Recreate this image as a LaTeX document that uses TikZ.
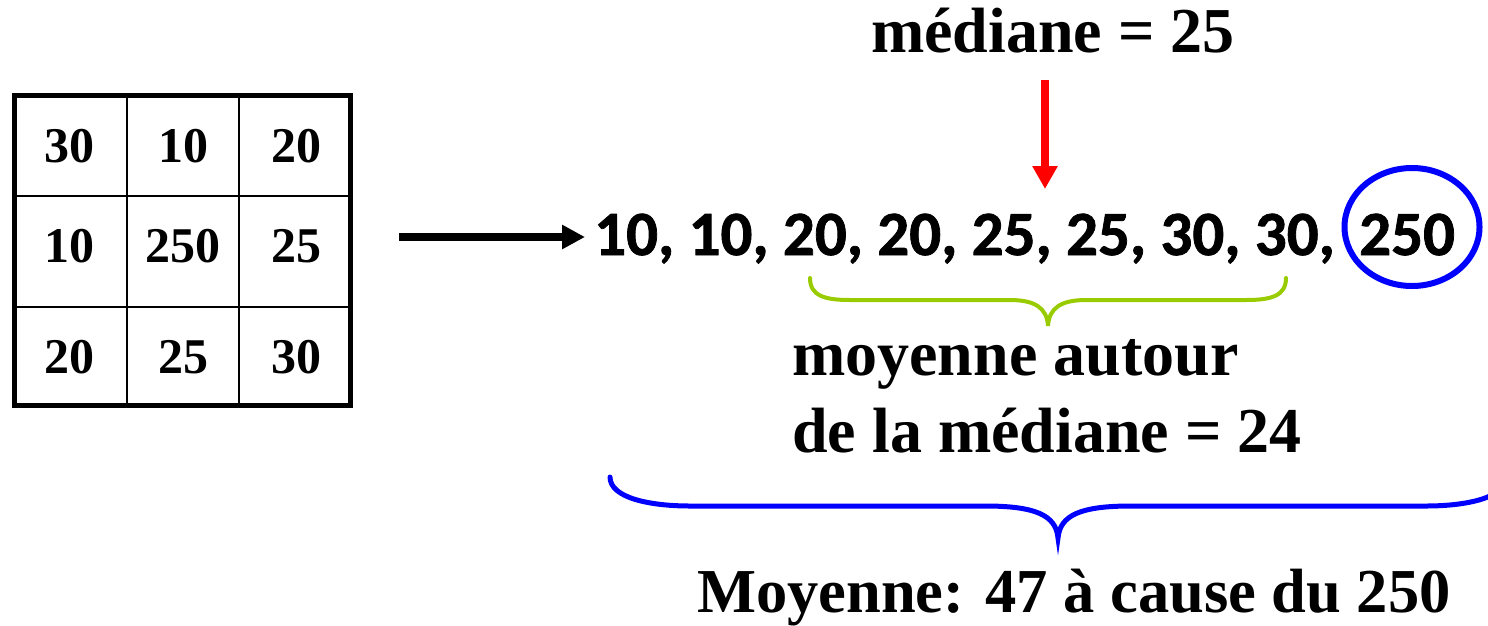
\documentclass[tikz,border=0pt]{standalone}
\usepackage{fontspec}
\usetikzlibrary{arrows.meta,shapes.geometric}
\newfontfamily\labfont{Liberation Serif}
\newfontfamily\calfont{Carlito}[BoldFeatures={FakeBold=1.2}]
\definecolor{brgreen}{RGB}{153,204,0}
\definecolor{pureblue}{RGB}{0,0,255}
\definecolor{purered}{RGB}{255,0,0}
\begin{document}
\begin{tikzpicture}[x=1pt,y=-1pt,
  cell/.style={font=\labfont\bfseries\fontsize{50}{50}\selectfont, anchor=base, inner sep=0pt},
  num/.style={font=\calfont\bfseries\fontsize{63}{63}\selectfont, anchor=base west, inner sep=0pt},
  lab/.style={font=\labfont\bfseries\fontsize{64}{64}\selectfont, inner sep=0pt},
  gridbox/.style={draw, line width=5pt, inner sep=0pt, minimum width=336pt, minimum height=310pt},
  gridline/.style={line width=2.6pt},
  blackarrow/.style={line width=7.5pt, -{Triangle[length=23pt,width=23pt]}},
  redarrow/.style={purered, line width=8pt, -{Triangle[length=23pt,width=24pt]}},
  greenbrace/.style={brgreen, line width=4pt, line cap=round},
  bluebrace/.style={pureblue, line width=5pt, line cap=round},
  ring/.style={draw=pureblue, line width=6pt, ellipse, inner sep=0pt, minimum width=135pt, minimum height=118pt}
]
\useasboundingbox (0,0) rectangle (1488,625);
\clip (0,0) rectangle (1488,625);

% grid
\node[gridbox] (grid) at (182.5,250.5) {};
\draw[gridline] (127,0 |- grid.north) -- (127,0 |- grid.south);
\draw[gridline] (239,0 |- grid.north) -- (239,0 |- grid.south);
\draw[gridline] (grid.west |- 0,196) -- (grid.east |- 0,196);
\draw[gridline] (grid.west |- 0,307) -- (grid.east |- 0,307);

\node[cell] (c11) at (69,162) {30};
\node[cell] (c12) at (183,162) {10};
\node[cell] (c13) at (296,162) {20};
\node[cell] (c21) at (69,262) {10};
\node[cell] (c22) at (183,262) {250};
\node[cell] (c23) at (296,262) {25};
\node[cell] (c31) at (69,373) {20};
\node[cell] (c32) at (183,373) {25};
\node[cell] (c33) at (296,373) {30};

% black arrow
\coordinate (arrS) at (399,237);
\coordinate (arrE) at (585,237);
\draw[blackarrow] (arrS) -- (arrE);

% sorted list
\node[num] (seq) at (594,255) {10, 10, 20, 20, 25, 25, 30, 30,};
\node[num] (big) at (1359,255) {250};
\node[ring] (ring) at (1412,227) {};

% median
\node[lab, anchor=base] (med) at (1053,52) {médiane = 25};
\coordinate (redS) at (1045,80);
\coordinate (redE) at (1045,189);
\draw[redarrow] (redS) -- (redE);

% green brace
\draw[greenbrace] (810,278) .. controls (810,296) and (825,300) .. (850,300) -- (1010,300)
  .. controls (1035,300) and (1047,308) .. (1048,326)
  .. controls (1049,308) and (1061,300) .. (1086,300) -- (1246,300)
  .. controls (1271,300) and (1286,296) .. (1286,278);
\node[lab, anchor=base west] (avgA) at (792,375) {moyenne autour};
\node[lab, anchor=base west] (avgB) at (792,452) {de la médiane = 24};

% blue brace
\draw[bluebrace] (610,477) .. controls (610,498) and (650,506) .. (690,506) -- (985,506)
  .. controls (1035,506) and (1056,515) .. (1058,538)
  .. controls (1060,515) and (1081,506) .. (1131,506) -- (1426,506)
  .. controls (1466,506) and (1506,498) .. (1506,477);
\node[lab, anchor=base west, font=\labfont\bfseries\fontsize{62.5}{62.5}\selectfont] (mean) at (697,612) {Moyenne: 47 à cause du 250};
\end{tikzpicture}
\end{document}
